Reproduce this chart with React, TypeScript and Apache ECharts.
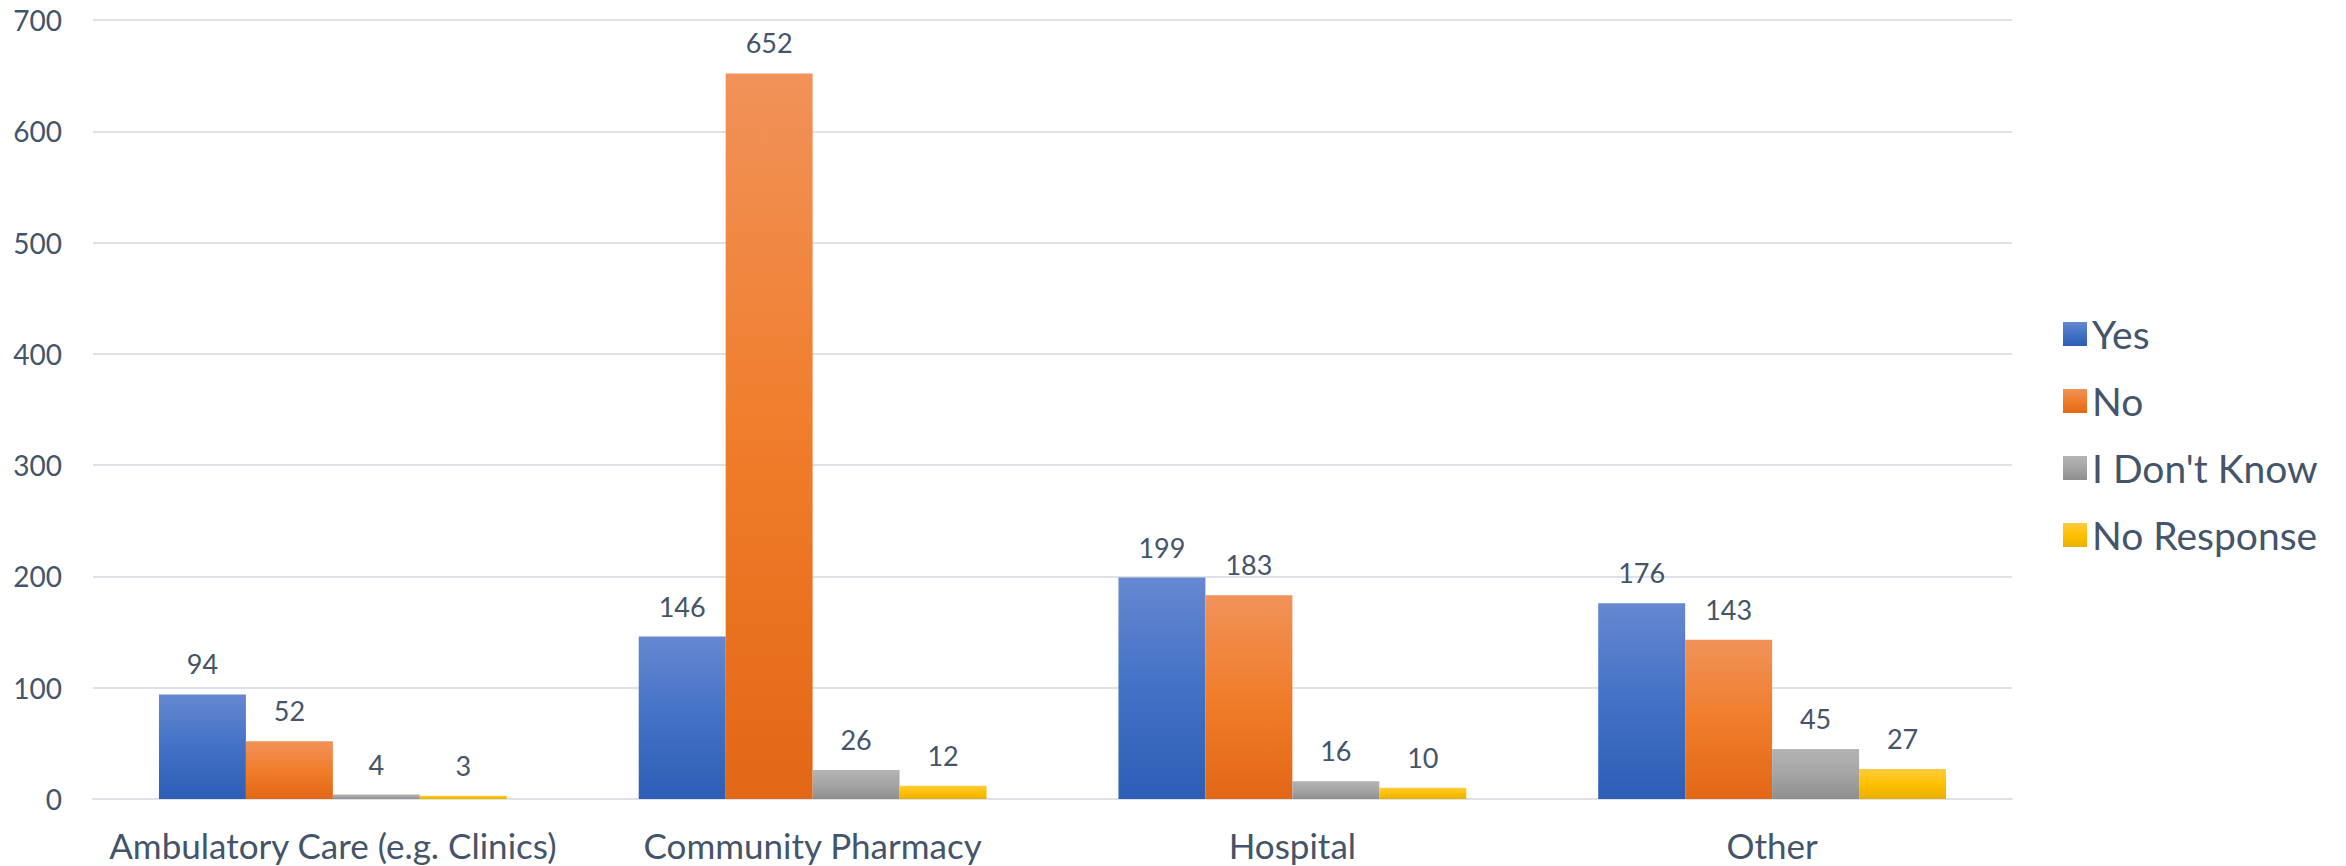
import React, { useEffect, useRef } from "react";
import * as echarts from "echarts";

const categories = ["Ambulatory Care (e.g. Clinics)", "Community Pharmacy", "Hospital", "Other"];
const seriesNames = ["Yes", "No", "I Don't Know", "No Response"];
const yesValues = [94, 146, 199, 176];
const noValues = [52, 652, 183, 143];
const dontKnowValues = [4, 26, 16, 45];
const noResponseValues = [3, 12, 10, 27];
const yTicks = { min: 0, max: 700, interval: 100 };

const gradients = [
  ["#6688D0", "#4271C6", "#2E5DB6"],
  ["#F19259", "#F07D2B", "#E26716"],
  ["#B4B4B4", "#A5A5A5", "#8E8E8E"],
  ["#FFCB40", "#FFC000", "#E8B000"],
];

const FONT = "Lato";
const TEXT = "#44546A";

function grad(c: string[]) {
  return new echarts.graphic.LinearGradient(0, 0, 0, 1, [
    { offset: 0, color: c[0] },
    { offset: 0.5, color: c[1] },
    { offset: 1, color: c[2] },
  ]);
}

export default function App() {
  const ref = useRef<HTMLDivElement>(null);
  useEffect(() => {
    if (!ref.current) return;
    const chart = echarts.init(ref.current, undefined, { renderer: "svg" });
    const data = [yesValues, noValues, dontKnowValues, noResponseValues];
    chart.setOption({
      animation: false,
      backgroundColor: "#FFFFFF",
      grid: { left: 93, right: 334, top: 20, bottom: 67, containLabel: false },
      legend: {
        orient: "vertical",
        left: 2058,
        top: 308,
        itemWidth: 24,
        itemHeight: 24,
        itemGap: 25,
        icon: "rect",
        textStyle: { fontFamily: FONT, fontSize: 39, color: TEXT, lineHeight: 42, padding: [0, 0, 0, 0] },
        data: seriesNames,
      },
      xAxis: {
        type: "category",
        data: categories,
        axisLine: { show: true, lineStyle: { color: "#DEE2E8", width: 2 } },
        axisTick: { show: false },
        axisLabel: { fontFamily: FONT, fontSize: 35, color: TEXT, margin: 28, interval: 0 },
      },
      yAxis: {
        type: "value",
        min: yTicks.min,
        max: yTicks.max,
        interval: yTicks.interval,
        axisLine: { show: false },
        axisTick: { show: false },
        splitLine: { lineStyle: { color: "#DEE2E8", width: 2 } },
        axisLabel: { fontFamily: FONT, fontSize: 28, color: TEXT, margin: 31 },
      },
      series: seriesNames.map((name, i) => ({
        name,
        type: "bar",
        data: data[i],
        barGap: "0%",
        barCategoryGap: "27.5%",
        itemStyle: { color: grad(gradients[i]) },
        label: {
          show: true,
          position: "top",
          distance: 17,
          fontFamily: FONT,
          fontSize: 27,
          color: TEXT,
        },
      })),
    });
    return () => chart.dispose();
  }, []);
  return (
    <div
      ref={ref}
      style={{ position: "absolute", left: 0, top: 0, width: 2346, height: 866 }}
    />
  );
}
